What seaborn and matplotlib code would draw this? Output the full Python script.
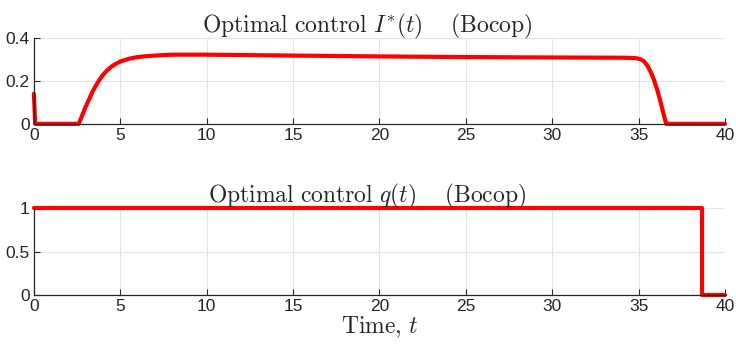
import numpy as np
import pandas as pd
import matplotlib
matplotlib.use('Agg')
import matplotlib.pyplot as plt
import seaborn as sns

# --- data ---
t_I = [0.0, 0.08, 2.6, 2.7, 2.85, 3.0, 3.2, 3.4, 3.6, 3.8, 4.0, 4.25, 4.5, 4.75, 5.0,
       5.5, 6.0, 6.5, 7.0, 8.0, 10.0, 15.0, 20.0, 25.0, 30.0, 34.0, 34.6, 34.9,
       35.1, 35.3, 35.5, 35.7, 35.9, 36.1, 36.3, 36.5, 36.6, 40.0]
I_star = [0.14, 0.0, 0.0, 0.02, 0.05, 0.08, 0.115, 0.15, 0.18, 0.205, 0.228, 0.25,
          0.267, 0.28, 0.29, 0.303, 0.311, 0.315, 0.318, 0.322, 0.322, 0.318, 0.314,
          0.311, 0.309, 0.308, 0.307, 0.305, 0.301, 0.292, 0.272, 0.243, 0.203,
          0.153, 0.093, 0.03, 0.0, 0.0]

t_q = [0.0, 38.65, 38.65, 40.0]
q = [1.0, 1.0, 0.0, 0.0]

top_yticks = [0, 0.2, 0.4]
top_ylabels = ['0', '0.2', '0.4']
bot_yticks = [0, 0.5, 1]
bot_ylabels = ['0', '0.5', '1']
xticks = [0, 5, 10, 15, 20, 25, 30, 35, 40]

sns.set_style('whitegrid')
plt.rcParams['font.family'] = ['Liberation Sans', 'DejaVu Sans']
plt.rcParams['mathtext.fontset'] = 'cm'

fig = plt.figure(figsize=(7.36, 3.45), dpi=100)
ax1 = fig.add_axes([0.046, 0.641, 0.939, 0.249])
ax2 = fig.add_axes([0.046, 0.145, 0.939, 0.252])

df_I = pd.DataFrame({'t': t_I, 'I': I_star})
df_q = pd.DataFrame({'t': t_q, 'q': q})

sns.lineplot(data=df_I, x='t', y='I', ax=ax1, color='red', lw=3,
             estimator=None, sort=False)
sns.lineplot(data=df_q, x='t', y='q', ax=ax2, color='red', lw=3,
             estimator=None, sort=False)

titles = [r'$\mathrm{Optimal\ control}\ I^{*}(t)\quad\ \mathrm{(Bocop)}$',
          r'$\mathrm{Optimal\ control}\ q(t)\quad\ \mathrm{(Bocop)}$']
for ax, yt, yl, title in [(ax1, top_yticks, top_ylabels, titles[0]),
                          (ax2, bot_yticks, bot_ylabels, titles[1])]:
    ax.set_xlim(0, 40)
    ax.set_ylim(yt[0], yt[-1])
    ax.set_xticks(xticks)
    ax.set_yticks(yt)
    ax.set_yticklabels(yl)
    ax.set_xlabel('')
    ax.set_ylabel('')
    ax.set_title(title, fontsize=17, pad=4, x=0.482)
    ax.grid(True, color='#e3e3e3', lw=0.8)
    for s in ['top', 'right']:
        ax.spines[s].set_visible(False)
    for s in ['left', 'bottom']:
        ax.spines[s].set_color('#262626')
        ax.spines[s].set_linewidth(0.9)
    ax.tick_params(direction='in', length=4, width=0.8, color='#262626',
                   labelsize=12.5, labelcolor='#262626', pad=3,
                   left=True, bottom=True)
    for line in ax.get_lines():
        line.set_clip_on(False)

ax2.set_xlabel(r'$\mathrm{Time,}\,t$', fontsize=17, labelpad=0)

fig.savefig('out.png', dpi=100)
